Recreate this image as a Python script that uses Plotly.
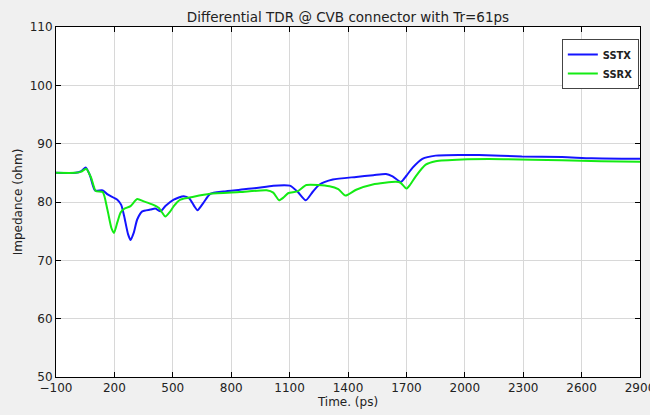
import plotly.graph_objects as go

sstx_t = [-100, 0, 30, 53, 75, 100, 140, 165, 215, 235, 250, 270, 283, 300, 317, 343, 385, 410, 437, 462,
          505, 556, 585, 610, 627, 658, 692, 760, 845, 930, 1016, 1101, 1140, 1183, 1220, 1254, 1322, 1442,
          1530, 1595, 1629, 1672, 1700, 1731, 1782, 1850, 1986, 2072, 2293, 2500, 2651, 2900]
sstx_v = [85.0, 85.0, 85.3, 85.9, 84.5, 82.0, 82.0, 81.3, 80.4, 79.5, 77.6, 74.5, 73.5, 74.8, 77.0, 78.4, 78.7,
          78.9, 78.4, 79.3, 80.4, 81.0, 80.6, 79.3, 78.6, 79.9, 81.4, 81.8, 82.1, 82.4, 82.8, 82.8, 81.8, 80.3,
          81.8, 83.0, 83.85, 84.3, 84.6, 84.8, 84.4, 83.45, 84.5, 85.85, 87.4, 87.95, 88.06, 88.07, 87.8, 87.7,
          87.5, 87.4]

ssrx_t = [-100, 0, 30, 55, 80, 104, 140, 164, 185, 198, 215, 232, 249, 283, 317, 351, 394, 428, 445, 462,
          485, 505, 539, 607, 692, 845, 982, 1016, 1046, 1070, 1092, 1143, 1186, 1305, 1350, 1387, 1442, 1527,
          1646, 1670, 1700, 1720, 1748, 1799, 1850, 1986, 2200, 2498, 2700, 2900]
ssrx_v = [85.0, 85.0, 85.2, 85.7, 84.2, 81.9, 81.7, 78.7, 75.5, 74.7, 76.5, 78.2, 78.8, 79.3, 80.5, 80.1, 79.6,
          79.0, 78.2, 77.5, 78.3, 79.3, 80.4, 80.9, 81.4, 81.7, 82.0, 81.6, 80.3, 80.8, 81.5, 81.85, 82.9, 82.7,
          82.2, 81.1, 82.1, 83.0, 83.45, 83.3, 82.3, 83.0, 84.4, 86.4, 87.0, 87.3, 87.35, 87.15, 87.0, 86.9]

x_ticks = [-100, 200, 500, 800, 1100, 1400, 1700, 2000, 2300, 2600, 2900]
y_ticks = [50, 60, 70, 80, 90, 100, 110]

fig = go.Figure()
fig.add_trace(go.Scatter(x=sstx_t, y=sstx_v, name="SSTX", mode="lines",
                         line=dict(color="rgb(20,20,255)", width=2, shape="spline", smoothing=0.6)))
fig.add_trace(go.Scatter(x=ssrx_t, y=ssrx_v, name="SSRX", mode="lines",
                         line=dict(color="rgb(20,235,20)", width=2, shape="spline", smoothing=0.6)))

axis_common = dict(showline=True, linecolor="black", linewidth=1, mirror="ticks", ticks="inside",
                   ticklen=5, tickcolor="black", showgrid=True, gridcolor="#d8d8d8", gridwidth=1,
                   zeroline=False, automargin=False, ticklabeloverflow="allow",
                   tickfont=dict(family="DejaVu Sans", size=12, color="#222"))

fig.update_layout(
    width=650, height=415,
    paper_bgcolor="#f0f0f0", plot_bgcolor="white",
    margin=dict(l=56, r=10, t=27, b=38),
    font=dict(family="DejaVu Sans, sans-serif", color="#222"),
    title=dict(text="Differential TDR @ CVB connector with Tr=61ps", xref="paper", x=0.5, xanchor="center",
               yref="container", y=1 - 17 / 415, yanchor="middle", font=dict(size=13.5)),
    xaxis=dict(range=[-100, 2900], tickvals=x_ticks,
               title=dict(text="Time. (ps)", font=dict(size=12), standoff=3), **axis_common),
    yaxis=dict(range=[50, 110], tickvals=y_ticks,
               title=dict(text="Impedance (ohm)", font=dict(size=12), standoff=4), **axis_common),
    legend=dict(x=0.998, y=0.966, xanchor="right", yanchor="top", bgcolor="white",
                bordercolor="#444", borderwidth=1,
                font=dict(family="Liberation Sans Narrow, DejaVu Sans Condensed, sans-serif", size=11, weight="bold"),
                tracegroupgap=0, itemwidth=30),
    showlegend=True,
)

fig.write_html("out.html", config={"displayModeBar": False},
               post_script="document.body.style.margin='0';document.body.style.padding='0';"
                           "document.body.style.overflow='hidden';")
